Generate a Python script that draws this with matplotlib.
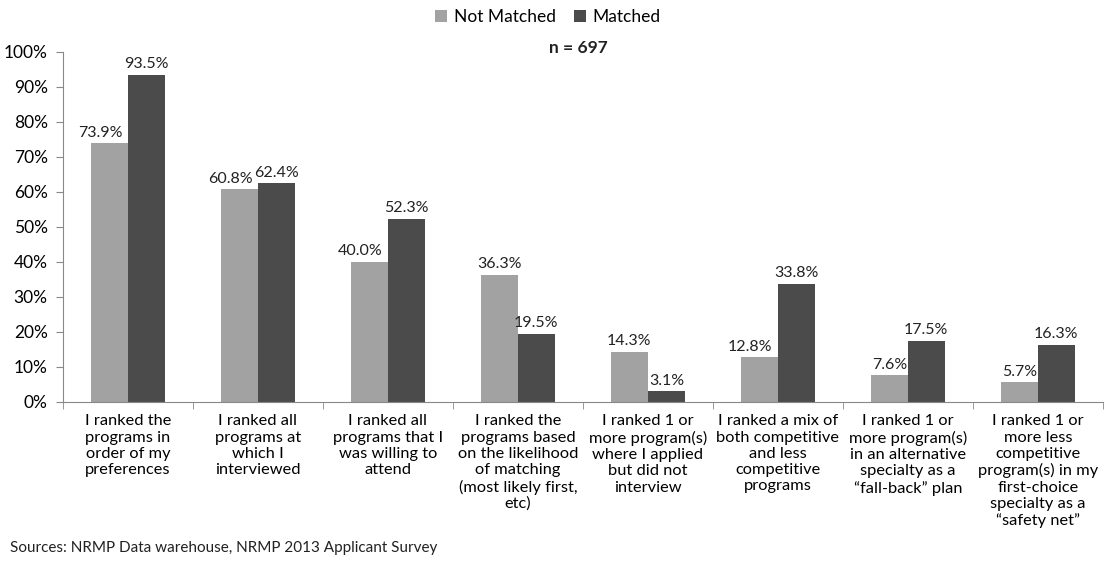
import numpy as np
import matplotlib.pyplot as plt

categories = [
    "I ranked the\nprograms in\norder of my\npreferences",
    "I ranked all\nprograms at\nwhich I\ninterviewed",
    "I ranked all\nprograms that I\nwas willing to\nattend",
    "I ranked the\nprograms based\non the likelihood\nof matching\n(most likely first,\netc)",
    "I ranked 1 or\nmore program(s)\nwhere I applied\nbut did not\ninterview",
    "I ranked a mix of\nboth competitive\nand less\ncompetitive\nprograms",
    "I ranked 1 or\nmore program(s)\nin an alternative\nspecialty as a\n\u201cfall-back\u201d plan",
    "I ranked 1 or\nmore less\ncompetitive\nprogram(s) in my\nfirst-choice\nspecialty as a\n\u201csafety net\u201d",
]
not_matched = [73.9, 60.8, 40.0, 36.3, 14.3, 12.8, 7.6, 5.7]
matched = [93.5, 62.4, 52.3, 19.5, 3.1, 33.8, 17.5, 16.3]

plt.rcParams['font.family'] = ['Lato', 'DejaVu Sans']

fig = plt.figure(figsize=(11.05, 5.63), dpi=100)
ax = fig.add_axes([0.057, 0.286, 0.941, 0.622])

x = np.arange(len(categories))
w = 0.285
b1 = ax.bar(x - w / 2, not_matched, w, color='#a2a2a2', label='Not Matched')
b2 = ax.bar(x + w / 2, matched, w, color='#4b4b4b', label='Matched')

# labels of the light bars get nudged left when they would run into the dark bar
for r, v, m in zip(b1, not_matched, matched):
    dx = -0.07 if (m > v and v >= 10) else 0
    ax.text(r.get_x() + r.get_width() / 2 + dx, v + 1.0, f'{v:.1f}%',
            ha='center', va='bottom', fontsize=11.5, color='#222222')
for r, v in zip(b2, matched):
    ax.text(r.get_x() + r.get_width() / 2, v + 1.0, f'{v:.1f}%',
            ha='center', va='bottom', fontsize=11.5, color='#222222')

ax.set_xlim(-0.5, len(categories) - 0.5)
ax.set_ylim(0, 100)
ax.set_yticks(np.arange(0, 101, 10))
ax.set_yticklabels([f'{t}%' for t in range(0, 101, 10)], fontsize=12.5)
ax.set_xticks(x)
ax.set_xticklabels(categories, fontsize=11.8, linespacing=1.2, va='top')
ax.tick_params(axis='x', length=0, pad=9)
ax.set_xticks(np.arange(-0.5, len(categories), 1), minor=True)
ax.tick_params(axis='x', which='minor', length=5, color='#888888')
ax.tick_params(axis='y', length=5, color='#888888', pad=6)

for s in ['top', 'right']:
    ax.spines[s].set_visible(False)
for s in ['left', 'bottom']:
    ax.spines[s].set_color('#888888')

fig.legend(handles=[b1, b2], loc='upper center', bbox_to_anchor=(0.496, 1.012),
           ncol=2, frameon=False, fontsize=12.5, handlelength=0.7,
           handleheight=0.7, columnspacing=1.0, handletextpad=0.4)

fig.text(0.523, 0.915, 'n = 697', ha='center', va='center', fontsize=12.5,
         fontweight='bold', color='#222222')
fig.text(0.009, 0.027, 'Sources: NRMP Data warehouse, NRMP 2013 Applicant Survey',
         fontsize=11, color='#222222', va='center')

fig.savefig('out.png', dpi=100)
